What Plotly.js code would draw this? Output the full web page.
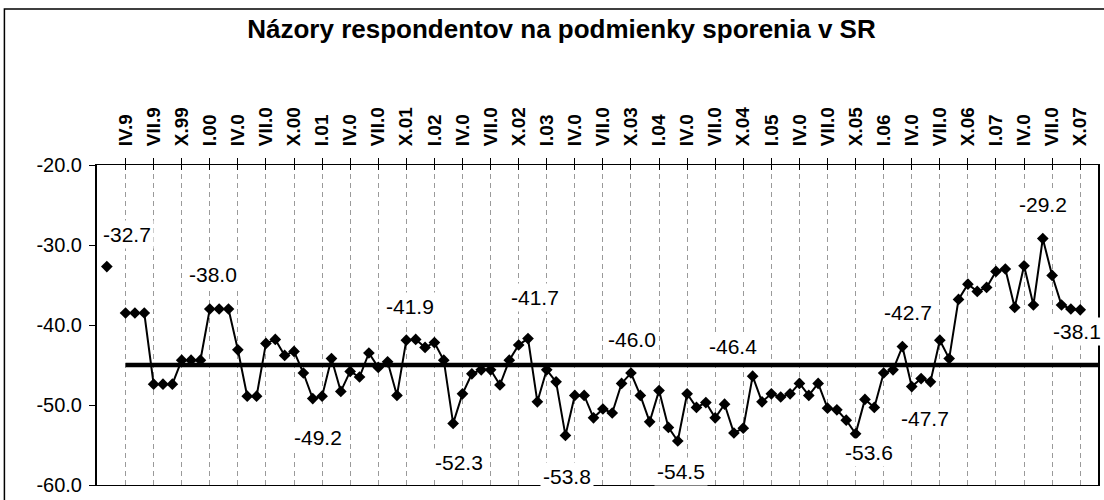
<!DOCTYPE html>
<html>
<head>
<meta charset="utf-8">
<script src="https://cdn.plot.ly/plotly-3.0.1.min.js"></script>
<style>html,body{margin:0;padding:0;background:#fff;}#chart{width:1104px;height:500px;}</style>
</head>
<body>
<div id="chart"></div>
<script>
// Monthly values, index 0 = II.99, index 2 = IV.99, ... index 104 = X.07
const values = [
  -32.7, null, -38.5, -38.5, -38.5, -47.4, -47.4, -47.4, -44.4, -44.4,
  -44.4, -38.0, -38.0, -38.0, -43.1, -48.9, -48.9, -42.3, -41.8, -43.8,
  -43.3, -46.0, -49.2, -48.9, -44.2, -48.3, -45.8, -46.5, -43.5, -45.3,
  -44.6, -48.8, -41.9, -41.8, -42.8, -42.2, -44.4, -52.3, -48.6, -46.1,
  -45.6, -45.6, -47.5, -44.4, -42.5, -41.7, -49.6, -45.6, -47.1, -53.8,
  -48.8, -48.8, -51.6, -50.5, -51.0, -47.3, -46.0, -48.8, -52.1, -48.2,
  -52.8, -54.5, -48.6, -50.3, -49.7, -51.6, -49.9, -53.5, -52.9, -46.4,
  -49.6, -48.6, -49.0, -48.6, -47.3, -48.8, -47.3, -50.4, -50.6, -51.9,
  -53.6, -49.3, -50.3, -46.0, -45.6, -42.7, -47.7, -46.7, -47.1, -41.9,
  -44.2, -36.8, -34.9, -35.8, -35.3, -33.3, -33.0, -37.8, -32.6, -37.5,
  -29.2, -33.8, -37.5, -38.0, -38.1
];
const monthIndex = values.map((v, i) => i);

// Average line
const avgValue = -45.0;
const avgFrom = 2;
const avgTo = 106;

// Axis tick labels (every third month, starting IV.99)
const tickIndex = [2,5,8,11,14,17,20,23,26,29,32,35,38,41,44,47,50,53,56,59,62,65,68,71,74,77,80,83,86,89,92,95,98,101,104];
const tickText = ["IV.9","VII.9","X.99","I.00","IV.0","VII.0","X.00","I.01","IV.0","VII.0",
  "X.01","I.02","IV.0","VII.0","X.02","I.03","IV.0","VII.0","X.03","I.04",
  "IV.0","VII.0","X.04","I.05","IV.0","VII.0","X.05","I.06","IV.0","VII.0",
  "X.06","I.07","IV.0","VII.0","X.07"];
const yTicks = [-20, -30, -40, -50, -60];
const yTickText = ["-20.0", "-30.0", "-40.0", "-50.0", "-60.0"];

// Labelled points (index into values) and label offsets in px
const labelIdx = [0, 11, 22, 32, 37, 45, 49, 56, 61, 69, 80, 85, 86, 100, 104];
const labelDx  = [20, 3, 5, 4, 6, 7, 2, 1, 3, -20, 13, 6, 13, 0, -3];
const labelDy  = [-32, -35, 39, -34, 39, -41, 41, -34, 30, -30, 19, -34, 32, -34, 22];

const FONT = '"Liberation Sans", Arial, Helvetica, sans-serif';

const traces = [
  {
    x: [avgFrom, avgTo], y: [avgValue, avgValue],
    type: 'scatter', mode: 'lines',
    line: {color: '#000', width: 4.5},
    hoverinfo: 'skip', showlegend: false
  },
  {
    x: monthIndex, y: values,
    type: 'scatter', mode: 'lines+markers',
    connectgaps: false,
    line: {color: '#000', width: 2},
    marker: {symbol: 'diamond', size: 9, color: '#000'},
    showlegend: false
  },
  {
    x: [tickIndex[0]], y: [-60], xaxis: 'x2', yaxis: 'y',
    type: 'scatter', mode: 'markers', marker: {size: 0, opacity: 0},
    hoverinfo: 'skip', showlegend: false
  }
];

const annotations = labelIdx.map((idx, k) => ({
  x: idx, y: values[idx], xref: 'x', yref: 'y',
  text: values[idx].toFixed(1),
  showarrow: false,
  xshift: labelDx[k], yshift: -labelDy[k],
  font: {family: FONT, size: 21, color: '#000'},
  bgcolor: '#ffffff', borderpad: 2,
  xanchor: 'center', yanchor: 'middle'
}));

const xRange = [-1.05, 105.9];

const layout = {
  width: 1104, height: 500,
  margin: {l: 97, r: 6, t: 165, b: 15, pad: 0},
  paper_bgcolor: '#fff', plot_bgcolor: '#fff',
  showlegend: false,
  title: {
    text: 'Názory respondentov na podmienky sporenia v SR',
    font: {family: FONT, size: 26, color: '#000', weight: 700},
    xref: 'paper', x: 0.464, xanchor: 'center',
    yref: 'container', y: 0.942, yanchor: 'middle'
  },
  xaxis: {
    side: 'top', range: xRange,
    tickmode: 'array', tickvals: tickIndex, ticktext: tickText,
    tickangle: -90,
    tickfont: {family: FONT, size: 19, color: '#000', weight: 700},
    ticks: 'outside', ticklen: 6, tickwidth: 1, tickcolor: '#000',
    ticklabelstandoff: 8,
    showline: true, linecolor: '#000', linewidth: 1, mirror: true,
    showgrid: true, gridcolor: '#9a9a9a', gridwidth: 1, griddash: '5px,4px',
    zeroline: false, fixedrange: true
  },
  xaxis2: {
    overlaying: 'x', side: 'top', range: xRange,
    tickmode: 'array', tickvals: tickIndex, showticklabels: false,
    ticks: 'inside', ticklen: 5, tickwidth: 1, tickcolor: '#000',
    showline: false, showgrid: false, zeroline: false, fixedrange: true
  },
  yaxis: {
    range: [-60, -20],
    tickmode: 'array', tickvals: yTicks, ticktext: yTickText,
    tickfont: {family: FONT, size: 20, color: '#000'},
    ticks: 'outside', ticklen: 6, tickwidth: 1, tickcolor: '#000',
    ticklabelstandoff: 3,
    showline: true, linecolor: '#000', linewidth: 2, mirror: true,
    showgrid: false, zeroline: false, fixedrange: true
  },
  shapes: [{
    type: 'rect', xref: 'paper', yref: 'paper',
    x0: -0.0925, x1: 1.02, y0: -0.1, y1: 1.4875,
    line: {color: '#000', width: 1.5}, fillcolor: 'rgba(0,0,0,0)', layer: 'below'
  }],
  annotations: annotations
};

Plotly.newPlot('chart', traces, layout, {staticPlot: true, displayModeBar: false});
</script>
</body>
</html>
